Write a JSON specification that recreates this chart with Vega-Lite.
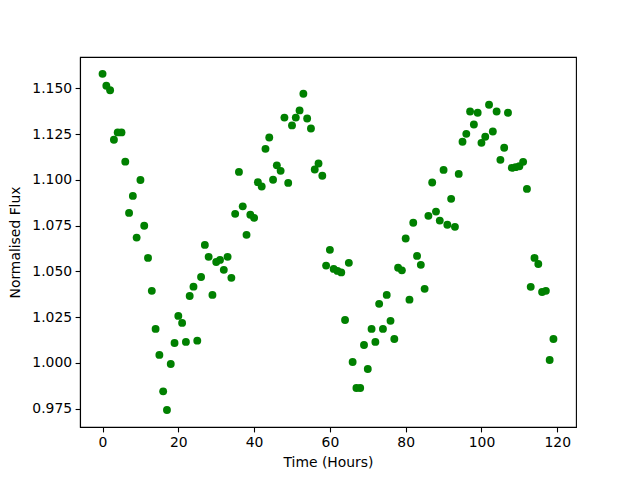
{
  "$schema": "https://vega.github.io/schema/vega-lite/v6.json",
  "width": 496,
  "height": 370,
  "autosize": {"type": "none"},
  "padding": {"left": 80, "top": 57, "right": 64, "bottom": 53},
  "background": "white",
  "config": {
    "view": {"stroke": "black", "strokeWidth": 1.1},
    "axis": {
      "grid": false,
      "domainColor": "black",
      "domainWidth": 1.1,
      "tickColor": "black",
      "tickWidth": 1.1,
      "tickSize": 4.9,
      "labelPadding": 3.5,
      "labelFont": "DejaVu Sans",
      "labelFontSize": 13.9,
      "labelColor": "black",
      "titleFont": "DejaVu Sans",
      "titleFontSize": 13.9,
      "titleFontWeight": "normal",
      "titleColor": "black"
    }
  },
  "data": {
    "values": [
      {"t": 0, "f": 1.158}, {"t": 1, "f": 1.1515}, {"t": 2, "f": 1.149}, {"t": 3, "f": 1.122},
      {"t": 4, "f": 1.126}, {"t": 5, "f": 1.126}, {"t": 6, "f": 1.11}, {"t": 7, "f": 1.082},
      {"t": 8, "f": 1.0913}, {"t": 9, "f": 1.0685}, {"t": 10, "f": 1.1}, {"t": 11, "f": 1.075},
      {"t": 12, "f": 1.0574}, {"t": 13, "f": 1.0394}, {"t": 14, "f": 1.0186}, {"t": 15, "f": 1.0044},
      {"t": 16, "f": 0.9845}, {"t": 17, "f": 0.9743}, {"t": 18, "f": 0.9994}, {"t": 19, "f": 1.0109},
      {"t": 20, "f": 1.0257}, {"t": 21, "f": 1.0219}, {"t": 22, "f": 1.0115}, {"t": 23, "f": 1.0366},
      {"t": 24, "f": 1.0417}, {"t": 25, "f": 1.0122}, {"t": 26, "f": 1.047}, {"t": 27, "f": 1.0645},
      {"t": 28, "f": 1.058}, {"t": 29, "f": 1.0372}, {"t": 30, "f": 1.0552}, {"t": 31, "f": 1.0563},
      {"t": 32, "f": 1.0509}, {"t": 33, "f": 1.058}, {"t": 34, "f": 1.0465}, {"t": 35, "f": 1.0815},
      {"t": 36, "f": 1.1044}, {"t": 37, "f": 1.0856}, {"t": 38, "f": 1.07}, {"t": 39, "f": 1.081},
      {"t": 40, "f": 1.0793}, {"t": 41, "f": 1.0988}, {"t": 42, "f": 1.0964}, {"t": 43, "f": 1.117},
      {"t": 44, "f": 1.1232}, {"t": 45, "f": 1.1001}, {"t": 46, "f": 1.108}, {"t": 47, "f": 1.105},
      {"t": 48, "f": 1.1341}, {"t": 49, "f": 1.0984}, {"t": 50, "f": 1.1298}, {"t": 51, "f": 1.1341},
      {"t": 52, "f": 1.138}, {"t": 53, "f": 1.1471}, {"t": 54, "f": 1.1336}, {"t": 55, "f": 1.1281},
      {"t": 56, "f": 1.1057}, {"t": 57, "f": 1.109}, {"t": 58, "f": 1.1023}, {"t": 59, "f": 1.0532},
      {"t": 60, "f": 1.0618}, {"t": 61, "f": 1.0514}, {"t": 62, "f": 1.0503}, {"t": 63, "f": 1.0495},
      {"t": 64, "f": 1.0235}, {"t": 65, "f": 1.0547}, {"t": 66, "f": 1.0005}, {"t": 67, "f": 0.9863},
      {"t": 68, "f": 0.9863}, {"t": 69, "f": 1.0098}, {"t": 70, "f": 0.9967}, {"t": 71, "f": 1.0186},
      {"t": 72, "f": 1.0115}, {"t": 73, "f": 1.0323}, {"t": 74, "f": 1.0186}, {"t": 75, "f": 1.0372},
      {"t": 76, "f": 1.023}, {"t": 77, "f": 1.0131}, {"t": 78, "f": 1.052}, {"t": 79, "f": 1.0506},
      {"t": 80, "f": 1.068}, {"t": 81, "f": 1.0346}, {"t": 82, "f": 1.0766}, {"t": 83, "f": 1.0585},
      {"t": 84, "f": 1.0536}, {"t": 85, "f": 1.0405}, {"t": 86, "f": 1.0804}, {"t": 87, "f": 1.0986},
      {"t": 88, "f": 1.0827}, {"t": 89, "f": 1.0778}, {"t": 90, "f": 1.1055}, {"t": 91, "f": 1.0755},
      {"t": 92, "f": 1.0897}, {"t": 93, "f": 1.0744}, {"t": 94, "f": 1.1033}, {"t": 95, "f": 1.1209},
      {"t": 96, "f": 1.1252}, {"t": 97, "f": 1.1374}, {"t": 98, "f": 1.1303}, {"t": 99, "f": 1.1367},
      {"t": 100, "f": 1.1203}, {"t": 101, "f": 1.1236}, {"t": 102, "f": 1.1411}, {"t": 103, "f": 1.1265},
      {"t": 104, "f": 1.1374}, {"t": 105, "f": 1.111}, {"t": 106, "f": 1.1176}, {"t": 107, "f": 1.1367},
      {"t": 108, "f": 1.1066}, {"t": 109, "f": 1.107}, {"t": 110, "f": 1.1075}, {"t": 111, "f": 1.1099},
      {"t": 112, "f": 1.0951}, {"t": 113, "f": 1.0416}, {"t": 114, "f": 1.0574}, {"t": 115, "f": 1.0541},
      {"t": 116, "f": 1.0388}, {"t": 117, "f": 1.0394}, {"t": 118, "f": 1.0016}, {"t": 119, "f": 1.0131}
    ]
  },
  "mark": {"type": "point", "shape": "circle", "filled": true, "opacity": 1, "color": "#008000", "size": 62},
  "encoding": {
    "x": {
      "field": "t",
      "type": "quantitative",
      "title": "Time (Hours)",
      "scale": {"domain": [-5.95, 124.95], "nice": false, "zero": false},
      "axis": {"values": [0, 20, 40, 60, 80, 100, 120], "format": "d", "titlePadding": 6}
    },
    "y": {
      "field": "f",
      "type": "quantitative",
      "title": "Normalised Flux",
      "scale": {"domain": [0.965, 1.1672], "nice": false, "zero": false},
      "axis": {"values": [0.975, 1.0, 1.025, 1.05, 1.075, 1.1, 1.125, 1.15], "format": ".3f", "titlePadding": 9}
    }
  }
}
